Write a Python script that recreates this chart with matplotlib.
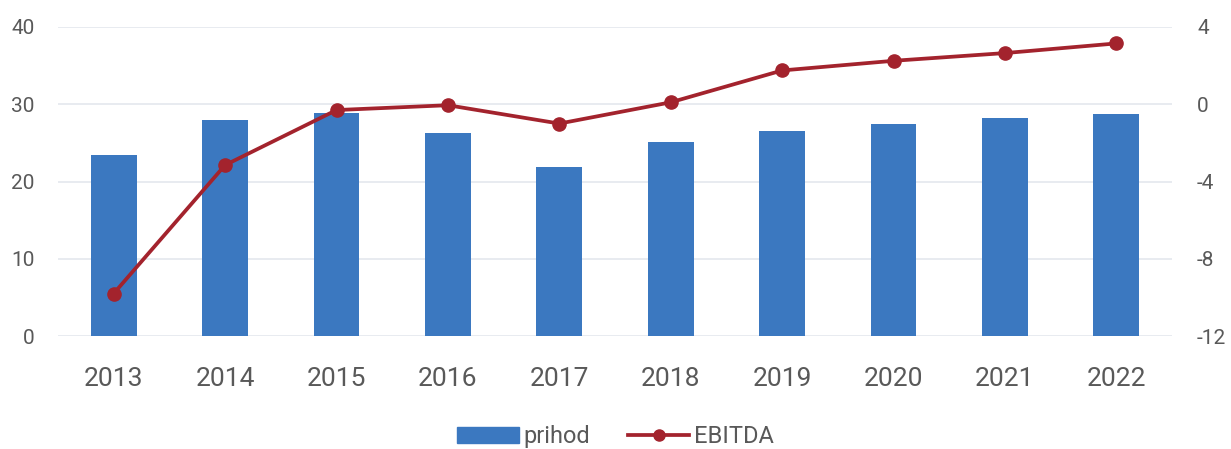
import matplotlib.pyplot as plt
from matplotlib.lines import Line2D
from matplotlib.patches import Patch
import numpy as np

years = ['2013', '2014', '2015', '2016', '2017', '2018', '2019', '2020', '2021', '2022']
prihod = [23.4, 27.9, 28.9, 26.3, 21.9, 25.1, 26.6, 27.4, 28.2, 28.8]
ebitda = [-9.8, -3.15, -0.3, -0.05, -1.0, 0.1, 1.75, 2.25, 2.65, 3.15]

blue = '#3b78c0'
red = '#a3232d'
grey = '#595959'

plt.rcParams.update({
    'font.family': ['Roboto', 'DejaVu Sans'],
    'figure.dpi': 100,
    'axes.unicode_minus': False,
})

fig = plt.figure(figsize=(12.31, 4.49))
ax = fig.add_axes([58/1231, 1 - 336/449, (1172 - 58)/1231, (336 - 27)/449])
ax2 = ax.twinx()

x = np.arange(len(years))
ax.bar(x, prihod, width=0.41, color=blue, zorder=2)
ax2.plot(x, ebitda, color=red, lw=2.7, marker='o', ms=9.5, zorder=3)

ax.set_xlim(-0.5, len(years) - 0.5)
ax.set_ylim(0, 40)
ax.set_yticks([0, 10, 20, 30, 40])
ax2.set_ylim(-12, 4)
ax2.set_yticks([-12, -8, -4, 0, 4])
ax.set_xticks(x)
ax.set_xticklabels(years)

ax.grid(axis='y', color='#e4e7ee', lw=1.2, zorder=0)
ax.set_axisbelow(True)
for a in (ax, ax2):
    for s in a.spines.values():
        s.set_visible(False)
    a.tick_params(length=0, colors=grey)
ax.tick_params(axis='y', labelsize=15, pad=17)
ax.tick_params(axis='x', labelsize=19, pad=22)
ax2.tick_params(axis='y', labelsize=15, pad=18)

handles = [Patch(color=blue, label='prihod'),
           Line2D([], [], color=red, lw=2.7, marker='o', ms=8, label='EBITDA')]
leg = fig.legend(handles=handles, loc='center', bbox_to_anchor=(0.5, 0.027),
                 ncol=2, frameon=False, fontsize=17, handlelength=2.6,
                 handletextpad=0.2, columnspacing=1.6)
for t in leg.get_texts():
    t.set_color(grey)

fig.savefig('out.png', dpi=100)
